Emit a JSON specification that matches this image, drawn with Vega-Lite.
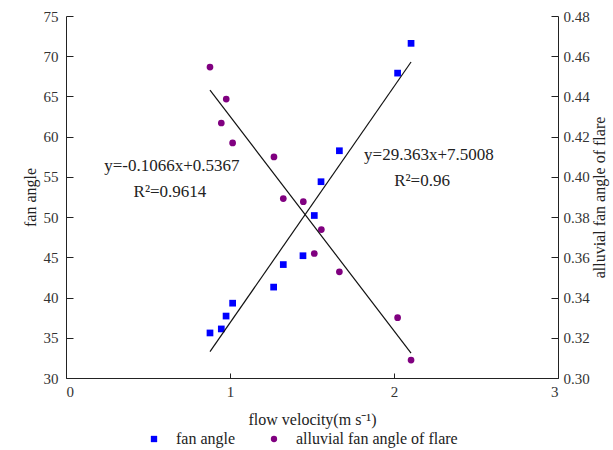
{
  "$schema": "https://vega.github.io/schema/vega-lite/v6.json",
  "width": 492,
  "height": 362,
  "autosize": {"type": "none"},
  "padding": {"left": 66, "top": 16, "right": 55, "bottom": 72},
  "background": "white",
  "config": {
    "view": {"stroke": null},
    "font": "Liberation Serif",
    "axis": {"domainColor": "#222", "tickColor": "#222", "labelColor": "#333", "titleColor": "#222", "labelFont": "Liberation Serif", "titleFont": "Liberation Serif", "labelFontSize": 15, "titleFontSize": 16, "titleFontWeight": "normal", "grid": false},
    "legend": {"labelFont": "Liberation Serif", "labelFontSize": 16, "labelColor": "#222", "labelLimit": 400}
  },
  "datasets": {
    "fan": [
      {"v": 0.878, "y": 35.6, "series": "fan angle"},
      {"v": 0.947, "y": 36.1, "series": "fan angle"},
      {"v": 0.976, "y": 37.7, "series": "fan angle"},
      {"v": 1.016, "y": 39.3, "series": "fan angle"},
      {"v": 1.266, "y": 41.3, "series": "fan angle"},
      {"v": 1.325, "y": 44.1, "series": "fan angle"},
      {"v": 1.445, "y": 45.2, "series": "fan angle"},
      {"v": 1.514, "y": 50.2, "series": "fan angle"},
      {"v": 1.555, "y": 54.4, "series": "fan angle"},
      {"v": 1.667, "y": 58.25, "series": "fan angle"},
      {"v": 2.022, "y": 67.9, "series": "fan angle"},
      {"v": 2.104, "y": 71.6, "series": "fan angle"}
    ],
    "alluvial": [
      {"v": 0.878, "y": 0.4546, "series": "alluvial fan angle of flare"},
      {"v": 0.947, "y": 0.4268, "series": "alluvial fan angle of flare"},
      {"v": 0.977, "y": 0.4387, "series": "alluvial fan angle of flare"},
      {"v": 1.016, "y": 0.4169, "series": "alluvial fan angle of flare"},
      {"v": 1.268, "y": 0.4099, "series": "alluvial fan angle of flare"},
      {"v": 1.325, "y": 0.3892, "series": "alluvial fan angle of flare"},
      {"v": 1.447, "y": 0.3877, "series": "alluvial fan angle of flare"},
      {"v": 1.514, "y": 0.3619, "series": "alluvial fan angle of flare"},
      {"v": 1.557, "y": 0.3738, "series": "alluvial fan angle of flare"},
      {"v": 1.667, "y": 0.3528, "series": "alluvial fan angle of flare"},
      {"v": 2.022, "y": 0.3300, "series": "alluvial fan angle of flare"},
      {"v": 2.104, "y": 0.3089, "series": "alluvial fan angle of flare"}
    ],
    "fanFit": [
      {"v": 0.878, "y": 33.28},
      {"v": 2.104, "y": 69.28}
    ],
    "alluvialFit": [
      {"v": 0.878, "y": 0.4431},
      {"v": 2.104, "y": 0.3124}
    ],
    "fanText": [
      {"v": 2.213, "y": 57.7, "label": "y=29.363x+7.5008"},
      {"v": 2.171, "y": 54.5, "label": "R²=0.96"}
    ],
    "alluvialText": [
      {"v": 0.646, "y": 0.4054, "label": "y=-0.1066x+0.5367"},
      {"v": 0.634, "y": 0.3925, "label": "R²=0.9614"}
    ]
  },
  "layer": [
    {
      "layer": [
        {
          "data": {"name": "fan"},
          "mark": {"type": "point", "filled": true, "opacity": 1, "size": 45},
          "encoding": {
            "x": {"field": "v", "type": "quantitative", "scale": {"domain": [0, 3], "nice": false, "zero": false},
              "axis": {"values": [0, 1, 2, 3], "format": "d", "title": "flow velocity(m s⁻¹)", "tickSize": -5, "labelPadding": 11, "titlePadding": 12}},
            "y": {"field": "y", "type": "quantitative", "scale": {"domain": [30, 75], "nice": false, "zero": false},
              "axis": {"orient": "left", "title": "fan angle", "values": [30, 32.5, 35, 37.5, 40, 42.5, 45, 47.5, 50, 52.5, 55, 57.5, 60, 62.5, 65, 67.5, 70, 72.5, 75],
                "labelExpr": "datum.value % 5 === 0 ? datum.label : ''",
                "tickSize": {"condition": {"test": "datum.value % 5 === 0", "value": -7}, "value": -4},
                "labelPadding": 15, "titlePadding": 5}},
            "color": {"field": "series", "type": "nominal",
              "scale": {"domain": ["fan angle", "alluvial fan angle of flare"], "range": ["#0000ff", "#800080"]},
              "legend": {"title": null, "orient": "none", "direction": "horizontal", "legendX": 80, "legendY": 415, "columnPadding": 30, "labelOffset": 14, "symbolSize": 40, "padding": 0}},
            "shape": {"field": "series", "type": "nominal",
              "scale": {"domain": ["fan angle", "alluvial fan angle of flare"], "range": ["square", "circle"]}}
          }
        },
        {
          "data": {"name": "fanFit"},
          "mark": {"type": "line", "color": "#111", "strokeWidth": 1.2},
          "encoding": {
            "x": {"field": "v", "type": "quantitative"},
            "y": {"field": "y", "type": "quantitative"}
          }
        },
        {
          "data": {"name": "fanText"},
          "mark": {"type": "text", "fontSize": 17, "font": "Liberation Serif", "color": "#222"},
          "encoding": {
            "x": {"field": "v", "type": "quantitative"},
            "y": {"field": "y", "type": "quantitative"},
            "text": {"field": "label", "type": "nominal"}
          }
        }
      ]
    },
    {
      "layer": [
        {
          "data": {"name": "alluvial"},
          "mark": {"type": "point", "filled": true, "opacity": 1, "size": 45},
          "encoding": {
            "x": {"field": "v", "type": "quantitative"},
            "y": {"field": "y", "type": "quantitative", "scale": {"domain": [0.30, 0.48], "nice": false, "zero": false},
              "axis": {"orient": "right", "title": "alluvial fan angle of flare", "titleAngle": 270, "values": [0.30, 0.32, 0.34, 0.36, 0.38, 0.40, 0.42, 0.44, 0.46, 0.48], "format": ".2f", "tickSize": -7, "labelPadding": 12, "titlePadding": 18}},
            "color": {"field": "series", "type": "nominal"},
            "shape": {"field": "series", "type": "nominal"}
          }
        },
        {
          "data": {"name": "alluvialFit"},
          "mark": {"type": "line", "color": "#111", "strokeWidth": 1.2},
          "encoding": {
            "x": {"field": "v", "type": "quantitative"},
            "y": {"field": "y", "type": "quantitative"}
          }
        },
        {
          "data": {"name": "alluvialText"},
          "mark": {"type": "text", "fontSize": 17, "font": "Liberation Serif", "color": "#222"},
          "encoding": {
            "x": {"field": "v", "type": "quantitative"},
            "y": {"field": "y", "type": "quantitative"},
            "text": {"field": "label", "type": "nominal"}
          }
        }
      ]
    }
  ],
  "resolve": {"scale": {"y": "independent"}}
}
